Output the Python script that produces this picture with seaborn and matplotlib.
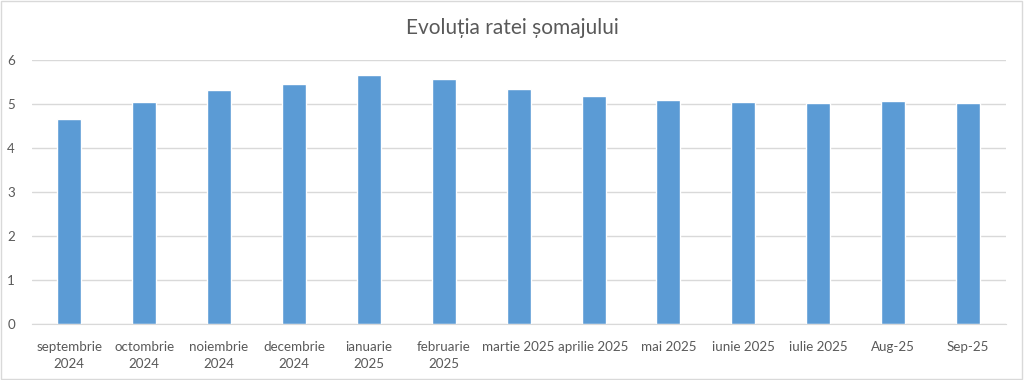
import matplotlib
matplotlib.use("Agg")
import matplotlib.pyplot as plt
import seaborn as sns
import pandas as pd
from matplotlib.patches import Rectangle

# etichete luni si rata somajului (%)
luni = [
    "septembrie\n2024", "octombrie\n2024", "noiembrie\n2024", "decembrie\n2024",
    "ianuarie\n2025", "februarie\n2025", "martie 2025", "aprilie 2025",
    "mai 2025", "iunie 2025", "iulie 2025", "Aug-25", "Sep-25",
]
rata = [4.66, 5.06, 5.32, 5.46, 5.67, 5.57, 5.35, 5.18, 5.10, 5.06, 5.04, 5.07, 5.04]
y_ticks = [0, 1, 2, 3, 4, 5, 6]

sns.set_style("white")
plt.rcParams["font.family"] = ["Lato", "DejaVu Sans"]

df = pd.DataFrame({"luna": luni, "rata": rata})

fig = plt.figure(figsize=(10.24, 3.8), dpi=100)
ax = fig.add_axes([0.031, 0.147, 0.951, 0.694])

sns.barplot(data=df, x="luna", y="rata", color="#5B9BD5", width=0.32,
            saturation=1, ax=ax)

ax.set_ylim(0, 6)
ax.set_yticks(y_ticks)
ax.set_xlim(-0.5, len(luni) - 0.5)
ax.yaxis.grid(True, color="#D9D9D9", linewidth=1)
ax.set_axisbelow(True)
for s in ["left", "right", "top"]:
    ax.spines[s].set_visible(False)
ax.spines["bottom"].set_color("#D9D9D9")
ax.tick_params(axis="both", length=0, labelsize=9.6, colors="#595959")
ax.tick_params(axis="x", pad=12)
ax.tick_params(axis="y", pad=12)
for lbl in ax.get_xticklabels():
    lbl.set_linespacing(1.5)
ax.set_xlabel("")
ax.set_ylabel("")

fig.text(0.5, 0.925, "Evoluția ratei șomajului", ha="center", va="center",
         fontsize=15, color="#595959")

# chenar gri in jurul graficului
fig.patches.append(Rectangle((0.001, 0.002), 0.997, 0.995, transform=fig.transFigure,
                             fill=False, edgecolor="#D9D9D9", linewidth=1))

fig.savefig("out.png", dpi=100, facecolor="white")
